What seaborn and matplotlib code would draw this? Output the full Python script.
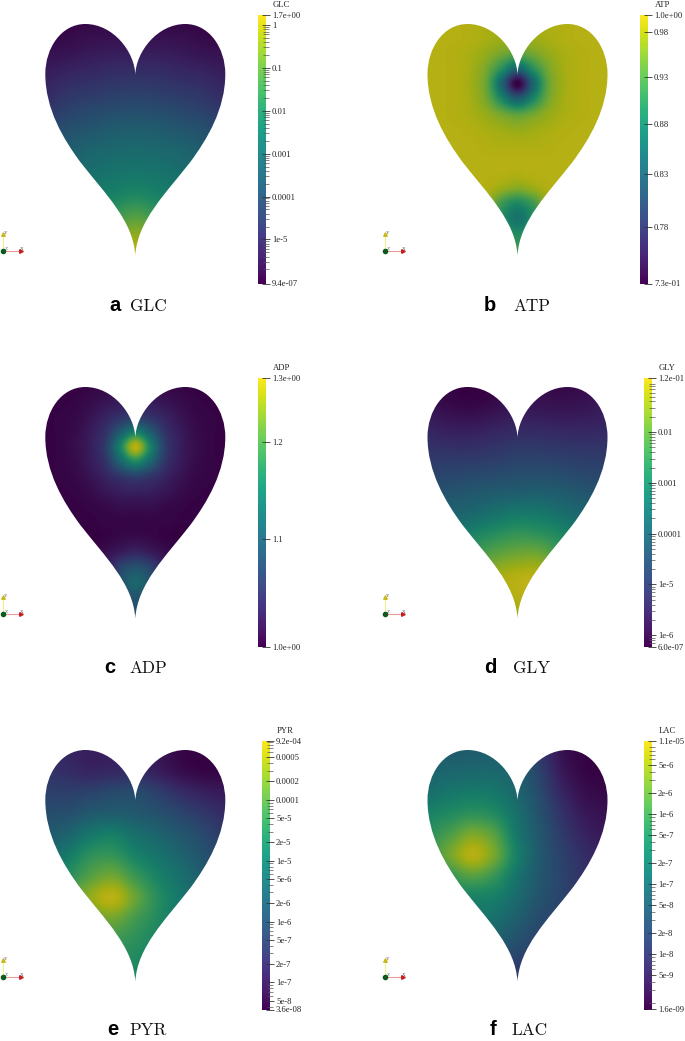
import numpy as np
import matplotlib
matplotlib.use('Agg')
import matplotlib.pyplot as plt
from matplotlib.colors import ListedColormap
from matplotlib.patches import PathPatch
from matplotlib.path import Path
from matplotlib.ticker import LogLocator, NullFormatter, NullLocator
import seaborn as sns

# fields are read from the picture as % of the way up each colorbar
# wide grids: x -90..90 in 9 columns, y 0..231 in 12 rows (px from heart top)
GLC_FIELD = [
    [1, 2, 3, 3, 3, 3, 3, 2, 1],
    [4, 5, 7, 8, 8, 8, 7, 5, 4],
    [9, 11, 13, 15, 15, 15, 13, 11, 9],
    [14, 18, 20, 22, 23, 22, 20, 18, 14],
    [20, 25, 28, 30, 31, 30, 28, 25, 20],
    [28, 33, 36, 39, 40, 39, 36, 33, 28],
    [35, 40, 44, 46, 47, 46, 44, 40, 35],
    [41, 45, 49, 52, 53, 52, 49, 45, 41],
    [45, 50, 55, 58, 61, 58, 55, 50, 45],
    [48, 54, 61, 69, 75, 69, 61, 54, 48],
    [50, 58, 68, 82, 89, 82, 68, 58, 50],
    [50, 58, 72, 89, 98, 89, 72, 58, 50],
]
GLY_FIELD = [
    [2, 1, 0, 2, 6, 4, 3, 4, 6],
    [7, 4, 3, 5, 9, 8, 7, 8, 10],
    [13, 11, 11, 13, 15, 15, 14, 14, 15],
    [20, 19, 19, 21, 23, 23, 22, 21, 21],
    [26, 27, 28, 29, 31, 31, 30, 28, 27],
    [33, 35, 37, 39, 40, 41, 39, 36, 33],
    [40, 43, 46, 51, 55, 54, 49, 44, 40],
    [50, 52, 60, 66, 70, 68, 62, 52, 48],
    [54, 60, 72, 80, 84, 84, 72, 60, 52],
    [60, 66, 80, 92, 97, 97, 84, 64, 56],
    [62, 68, 80, 92, 97, 96, 84, 66, 58],
    [64, 70, 80, 90, 92, 92, 84, 68, 60],
]
PYR_FIELD = [
    [18, 14, 11, 12, 12, 8, 2, 1, 1],
    [20, 17, 14, 15, 16, 11, 5, 2, 2],
    [26, 25, 27, 30, 31, 25, 17, 12, 9],
    [32, 33, 38, 40, 38, 34, 28, 22, 16],
    [38, 44, 54, 58, 50, 44, 37, 30, 22],
    [46, 56, 68, 70, 60, 52, 44, 35, 26],
    [52, 66, 78, 84, 72, 60, 50, 40, 30],
    [58, 76, 90, 98, 82, 66, 54, 44, 34],
    [62, 74, 80, 84, 74, 64, 52, 42, 34],
    [60, 66, 70, 72, 68, 60, 50, 42, 34],
    [58, 62, 66, 66, 64, 56, 48, 40, 34],
    [56, 60, 64, 64, 63, 56, 48, 40, 34],
]
LAC_FIELD = [
    [40, 40, 40, 41, 38, 22, 6, 1, 0],
    [44, 45, 46, 46, 42, 26, 9, 2, 1],
    [50, 54, 56, 54, 45, 30, 14, 5, 3],
    [60, 64, 68, 64, 50, 34, 19, 9, 6],
    [68, 76, 86, 78, 54, 37, 23, 13, 9],
    [72, 84, 97, 84, 58, 38, 26, 17, 12],
    [64, 70, 78, 70, 52, 37, 27, 19, 15],
    [60, 62, 60, 58, 47, 35, 27, 20, 17],
    [56, 58, 56, 50, 41, 31, 25, 20, 18],
    [52, 52, 50, 42, 34, 27, 23, 20, 18],
    [48, 46, 42, 34, 26, 24, 22, 20, 18],
    [44, 40, 34, 26, 20, 20, 20, 18, 18],
]
# finer grids for the two spots: x -90..90 in 13 columns, y 0..240 in 17 rows
ATP_FIELD = [
    [97, 97, 97, 96, 95, 94, 93, 94, 95, 96, 97, 97, 97],
    [97, 97, 97, 96, 94, 92, 90, 92, 94, 96, 97, 97, 97],
    [97, 97, 96, 94, 90, 84, 80, 84, 90, 94, 96, 97, 97],
    [97, 97, 96, 93, 84, 66, 45, 66, 84, 93, 96, 97, 97],
    [97, 97, 96, 92, 80, 42, 0, 42, 80, 92, 96, 97, 97],
    [97, 97, 96, 93, 83, 60, 39, 60, 83, 93, 96, 97, 97],
    [97, 97, 96, 94, 90, 83, 78, 83, 90, 94, 96, 97, 97],
    [97, 97, 97, 96, 94, 92, 90, 92, 94, 96, 97, 97, 97],
    [97, 97, 97, 97, 96, 95, 95, 95, 96, 97, 97, 97, 97],
    [97, 97, 97, 97, 97, 97, 97, 97, 97, 97, 97, 97, 97],
    [97, 97, 97, 97, 97, 97, 96, 97, 97, 97, 97, 97, 97],
    [97, 97, 97, 97, 96, 91, 87, 91, 96, 97, 97, 97, 97],
    [97, 97, 97, 97, 91, 72, 63, 72, 91, 97, 97, 97, 97],
    [97, 97, 97, 97, 89, 65, 52, 65, 89, 97, 97, 97, 97],
    [97, 97, 97, 97, 91, 75, 64, 75, 91, 97, 97, 97, 97],
    [97, 97, 97, 97, 90, 80, 72, 80, 90, 97, 97, 97, 97],
    [97, 97, 97, 97, 92, 80, 72, 80, 92, 97, 97, 97, 97],
]
ADP_FIELD = [
    [0, 1, 1, 2, 3, 4, 5, 4, 3, 2, 1, 1, 0],
    [0, 1, 2, 4, 7, 10, 11, 10, 7, 4, 2, 1, 0],
    [1, 2, 3, 7, 13, 19, 23, 19, 13, 7, 3, 2, 1],
    [1, 2, 4, 10, 19, 39, 57, 39, 19, 10, 4, 2, 1],
    [1, 2, 5, 11, 24, 60, 98, 60, 24, 11, 5, 2, 1],
    [1, 2, 4, 10, 20, 44, 63, 44, 20, 10, 4, 2, 1],
    [1, 2, 3, 7, 13, 20, 25, 20, 13, 7, 3, 2, 1],
    [0, 1, 2, 4, 8, 11, 12, 11, 8, 4, 2, 1, 0],
    [0, 1, 1, 2, 3, 5, 5, 5, 3, 2, 1, 1, 0],
    [0, 0, 1, 1, 2, 2, 2, 2, 2, 1, 1, 0, 0],
    [0, 0, 0, 0, 1, 3, 4, 3, 1, 0, 0, 0, 0],
    [0, 0, 0, 1, 5, 10, 14, 10, 5, 1, 0, 0, 0],
    [0, 0, 0, 3, 10, 27, 34, 27, 10, 3, 0, 0, 0],
    [0, 0, 0, 4, 14, 34, 45, 34, 14, 4, 0, 0, 0],
    [0, 0, 0, 3, 10, 27, 36, 27, 10, 3, 0, 0, 0],
    [0, 0, 0, 3, 10, 26, 33, 26, 10, 3, 0, 0, 0],
    [0, 0, 0, 3, 10, 26, 33, 26, 10, 3, 0, 0, 0],
]

NAMES = ['GLC', 'ATP', 'ADP', 'GLY', 'PYR', 'LAC']
LETTERS = ['a', 'b', 'c', 'd', 'e', 'f']
FIELDS = [GLC_FIELD, ATP_FIELD, ADP_FIELD, GLY_FIELD, PYR_FIELD, LAC_FIELD]

# colorbar ends and labels
BAR_MIN = [9.4e-7, 0.73, 1.0, 6.0e-7, 3.6e-8, 1.6e-9]
BAR_MAX = [1.7, 1.0, 1.27, 0.116, 9.2e-4, 1.1e-5]
BAR_MIN_LABEL = ['9.4e-07', '7.3e-01', '1.0e+00', '6.0e-07', '3.6e-08', '1.6e-09']
BAR_MAX_LABEL = ['1.7e+00', '1.0e+00', '1.3e+00', '1.2e-01', '9.2e-04', '1.1e-05']
BAR_MINOR = [True, False, False, True, True, True]
TICKS = [
    [1, 0.1, 0.01, 0.001, 0.0001, 1e-5],
    [0.98, 0.93, 0.88, 0.83, 0.78],
    [1.2, 1.1],
    [0.01, 0.001, 0.0001, 1e-5, 1e-6],
    [0.0005, 0.0002, 0.0001, 5e-5, 2e-5, 1e-5, 5e-6, 2e-6, 1e-6, 5e-7, 2e-7, 1e-7, 5e-8],
    [5e-6, 2e-6, 1e-6, 5e-7, 2e-7, 1e-7, 5e-8, 2e-8, 1e-8, 5e-9],
]
TICK_LABELS = [
    ['1', '0.1', '0.01', '0.001', '0.0001', '1e-5'],
    ['0.98', '0.93', '0.88', '0.83', '0.78'],
    ['1.2', '1.1'],
    ['0.01', '0.001', '0.0001', '1e-5', '1e-6'],
    ['0.0005', '0.0002', '0.0001', '5e-5', '2e-5', '1e-5', '5e-6', '2e-6', '1e-6', '5e-7', '2e-7', '1e-7', '5e-8'],
    ['5e-6', '2e-6', '1e-6', '5e-7', '2e-7', '1e-7', '5e-8', '2e-8', '1e-8', '5e-9'],
]

# layout in pixels of the 685x1041 page
W, H = 685, 1041
HEART_X = [135.3, 517.5, 135.3, 517.5, 135.3, 517.5]
HEART_TOP = [24, 24, 387, 387, 750, 750]
BAR_LEFT = [258, 640, 258, 644, 262, 644]
BAR_TOP = [15, 15, 378, 378, 741, 741]
LETTER_X = [109, 484, 104, 484, 107, 490]
NAME_X = [130, 513, 129, 513, 129, 512]
CAPTION_Y = [311, 311, 673, 673, 1035, 1035]
TRIAD_X = [3, 385, 3, 385, 3, 385]
TRIAD_Y = [251, 251, 614, 614, 977, 977]

# right half of the outline, bezier control points, px from heart top
HEART_RIGHT = [(0, 51), (0.5, 28), (22, 0), (50, 0), (74, 0), (90, 24), (90, 50),
               (90, 85), (72, 115), (55, 138), (30, 170), (2, 197), (0, 231.5)]


def heart_mask():
    # white sheet with a heart shaped hole, so the edge stays antialiased
    left = [(-x, y) for x, y in HEART_RIGHT[::-1]]
    heart = HEART_RIGHT + left[1:]
    verts = [(-130, -40), (-130, 290), (130, 290), (130, -40), (-130, -40)] + heart
    codes = [Path.MOVETO, Path.LINETO, Path.LINETO, Path.LINETO, Path.CLOSEPOLY]
    codes += [Path.MOVETO] + [Path.CURVE4] * (len(heart) - 1)
    return Path(verts, codes)


def px_axes(fig, left, top, width, height):
    return fig.add_axes([left / W, 1 - (top + height) / H, width / W, height / H])


def draw_heart(fig, field, cx, top, cmap):
    # axes larger than the image, the image edges stay hidden under the mask
    ax = px_axes(fig, cx - 115, top - 22, 230, 285)
    field = np.array(field, dtype=float)
    rows, cols = field.shape
    dx = 180 / (cols - 1)
    y_end = 231 if cols == 9 else 240
    dy = y_end / (rows - 1)
    # catrom passes through the grid values, plain bicubic flattens the spots
    ax.imshow(field, cmap=cmap, vmin=0, vmax=100, aspect='auto', interpolation='catrom',
              interpolation_stage='data',
              extent=(-90 - dx / 2, 90 + dx / 2, y_end + dy / 2, -dy / 2))
    ax.add_patch(PathPatch(heart_mask(), facecolor='white', edgecolor='none', zorder=3))
    ax.set_xlim(-115, 115)
    ax.set_ylim(263, -22)
    ax.axis('off')


def draw_bar(fig, i, left, top):
    cax = px_axes(fig, left, top, 8, 268.5)
    ramp = np.linspace(100, 0, 256)[:, None]
    sns.heatmap(ramp, cmap='viridis', vmin=0, vmax=100, cbar=False,
                xticklabels=False, yticklabels=False, ax=cax)
    tw = cax.twinx()
    tw.set_yscale('log')
    tw.set_ylim(BAR_MIN[i], BAR_MAX[i])
    if BAR_MINOR[i]:
        tw.yaxis.set_minor_locator(LogLocator(base=10, subs=np.arange(2, 10), numticks=60))
    else:
        tw.yaxis.set_minor_locator(NullLocator())
    tw.yaxis.set_minor_formatter(NullFormatter())
    tw.set_yticks([BAR_MIN[i]] + TICKS[i] + [BAR_MAX[i]],
                  [BAR_MIN_LABEL[i]] + TICK_LABELS[i] + [BAR_MAX_LABEL[i]])
    tw.tick_params(axis='y', which='major', direction='inout', length=5.8, width=0.6,
                   color='#333333', pad=1.4, labelsize=6.2, labelcolor='#222222',
                   left=False, right=True)
    tw.tick_params(axis='y', which='minor', direction='inout', length=5.0, width=0.5,
                   color='#555555', left=False, right=True)
    for s in tw.spines.values():
        s.set_visible(False)


def draw_triad(over, x, y):
    over.plot([x, x], [y, y - 17], color='#f2f08a', lw=0.8, zorder=2)
    over.plot([x, x + 17], [y, y], color='#ee9a9a', lw=0.8, zorder=2)
    over.plot([x], [y - 17], marker='^', ms=2.6, color='#c9b820', zorder=3)
    over.plot([x + 18], [y], marker='>', ms=2.6, color='#c42020', zorder=3)
    over.plot([x], [y], marker='o', ms=3, color='#0c5a1e', zorder=4)
    for s, tx, ty in [('Y', x + 3, y - 18), ('Z', x + 3, y - 2), ('X', x + 19, y - 2)]:
        over.text(tx, ty, s, fontsize=3.6, color='#555555', ha='center', va='center')


sns.set_theme(style='white')
plt.rcParams['font.family'] = ['Liberation Serif', 'DejaVu Serif']

viridis = sns.color_palette('viridis', as_cmap=True)
# the heart surfaces are a bit darker than the bar, lighting from the renderer
lit = ListedColormap(viridis(np.linspace(0, 1, 256))[:, :3] * 0.77)

fig = plt.figure(figsize=(W / 100, H / 100), facecolor='white')

for i, name in enumerate(NAMES):
    draw_heart(fig, FIELDS[i], HEART_X[i], HEART_TOP[i], lit)
    draw_bar(fig, i, BAR_LEFT[i], BAR_TOP[i])

over = fig.add_axes([0, 0, 1, 1], facecolor='none')
over.set_xlim(0, W)
over.set_ylim(H, 0)
over.axis('off')
for i, name in enumerate(NAMES):
    over.text(BAR_LEFT[i] + 15, BAR_TOP[i] - 10, name, fontsize=6.2, color='#222222',
              ha='left', va='center')
    over.text(LETTER_X[i], CAPTION_Y[i], LETTERS[i], fontsize=14.5, fontweight='bold',
              family='Liberation Sans', color='black', ha='left', va='baseline')
    over.text(NAME_X[i], CAPTION_Y[i], name, fontsize=12.4, family='cmr10',
              color='#111111', ha='left', va='baseline')
    draw_triad(over, TRIAD_X[i], TRIAD_Y[i])

fig.savefig('out.png', dpi=100)
